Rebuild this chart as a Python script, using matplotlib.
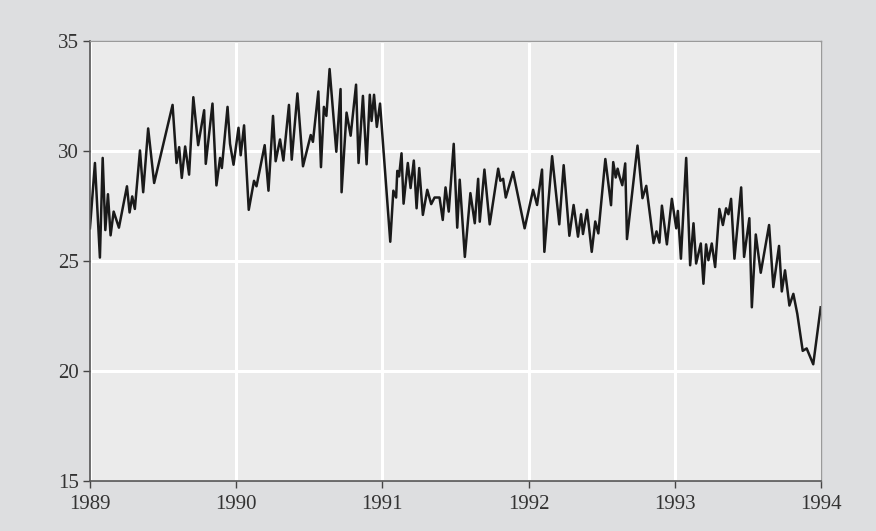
import matplotlib
matplotlib.use('Agg')
import matplotlib.pyplot as plt

# Dates as decimal years
dates = [
    1989.000, 1989.034, 1989.068, 1989.087, 1989.105, 1989.123, 1989.141, 1989.162,
    1989.198, 1989.253, 1989.271, 1989.289, 1989.307, 1989.342, 1989.364, 1989.398,
    1989.439, 1989.565, 1989.592, 1989.610, 1989.628, 1989.651, 1989.678, 1989.707,
    1989.740, 1989.781, 1989.792, 1989.838, 1989.865, 1989.890, 1989.902, 1989.941,
    1989.958, 1989.982, 1990.016, 1990.031, 1990.054, 1990.086, 1990.122, 1990.139,
    1990.195, 1990.221, 1990.252, 1990.270, 1990.300, 1990.323, 1990.361, 1990.380,
    1990.419, 1990.457, 1990.510, 1990.525, 1990.562, 1990.580, 1990.600, 1990.617,
    1990.639, 1990.685, 1990.714, 1990.721, 1990.755, 1990.783, 1990.820, 1990.837,
    1990.867, 1990.892, 1990.914, 1990.926, 1990.943, 1990.962, 1990.984, 1991.054,
    1991.075, 1991.094, 1991.102, 1991.114, 1991.131, 1991.145, 1991.174, 1991.193,
    1991.215, 1991.234, 1991.252, 1991.277, 1991.307, 1991.334, 1991.357, 1991.391,
    1991.413, 1991.432, 1991.454, 1991.488, 1991.512, 1991.529, 1991.564, 1991.602,
    1991.632, 1991.655, 1991.666, 1991.698, 1991.734, 1991.792, 1991.807, 1991.826,
    1991.844, 1991.894, 1991.973, 1992.031, 1992.058, 1992.092, 1992.108, 1992.161,
    1992.210, 1992.240, 1992.279, 1992.308, 1992.338, 1992.359, 1992.372, 1992.400,
    1992.432, 1992.456, 1992.477, 1992.525, 1992.564, 1992.579, 1992.596, 1992.609,
    1992.622, 1992.641, 1992.661, 1992.673, 1992.745, 1992.779, 1992.805, 1992.855,
    1992.875, 1992.895, 1992.912, 1992.946, 1992.980, 1993.010, 1993.021, 1993.042,
    1993.078, 1993.105, 1993.128, 1993.146, 1993.178, 1993.196, 1993.214, 1993.230,
    1993.253, 1993.276, 1993.305, 1993.329, 1993.351, 1993.367, 1993.385, 1993.408,
    1993.454, 1993.474, 1993.510, 1993.527, 1993.554, 1993.588, 1993.645, 1993.674,
    1993.713, 1993.732, 1993.754, 1993.784, 1993.811, 1993.838, 1993.875, 1993.902,
    1993.947, 1993.998,
]
values = [
    26.49, 29.46, 25.16, 29.69, 26.41, 28.04, 26.17, 27.25,
    26.52, 28.40, 27.21, 27.94, 27.37, 30.03, 28.13, 31.03,
    28.55, 32.10, 29.46, 30.18, 28.78, 30.21, 28.93, 32.45,
    30.27, 31.86, 29.42, 32.16, 28.44, 29.69, 29.23, 32.01,
    30.33, 29.38, 31.06, 29.81, 31.17, 27.33, 28.65, 28.40,
    30.27, 28.20, 31.60, 29.54, 30.53, 29.57, 32.10, 29.61,
    32.62, 29.31, 30.73, 30.42, 32.71, 29.27, 32.01, 31.60,
    33.73, 29.97, 32.82, 28.13, 31.75, 30.70, 33.02, 29.46,
    32.51, 29.40, 32.56, 31.37, 32.56, 31.10, 32.16, 25.88,
    28.20, 27.89, 29.10, 28.85, 29.90, 27.61, 29.46, 28.32,
    29.57, 27.40, 29.23, 27.10, 28.24, 27.59, 27.89, 27.89,
    26.87, 28.35, 27.25, 30.33, 26.52, 28.70, 25.19, 28.09,
    26.72, 28.74, 26.79, 29.16, 26.67, 29.20, 28.65, 28.74,
    27.89, 29.05, 26.49, 28.24, 27.55, 29.16, 25.42, 29.77,
    26.67, 29.36, 26.15, 27.55, 26.11, 27.13, 26.23, 27.33,
    25.42, 26.80, 26.26, 29.64, 27.54, 29.50, 28.80, 29.20,
    28.85, 28.45, 29.44, 26.00, 30.25, 27.86, 28.42, 25.82,
    26.35, 25.84, 27.52, 25.76, 27.83, 26.49, 27.28, 25.11,
    29.69, 24.81, 26.72, 24.89, 25.80, 23.97, 25.76, 25.04,
    25.80, 24.73, 27.37, 26.64, 27.40, 27.13, 27.83, 25.11,
    28.35, 25.19, 26.95, 22.90, 26.21, 24.47, 26.64, 23.82,
    25.69, 23.62, 24.58, 22.98, 23.51, 22.60, 20.92, 21.03,
    20.31, 22.90,
]

year_ticks = [1989, 1990, 1991, 1992, 1993, 1994]
value_ticks = [15, 20, 25, 30, 35]

plt.rcParams['font.family'] = ['Liberation Serif', 'DejaVu Serif']

fig = plt.figure(figsize=(8.76, 5.31), dpi=100, facecolor='#dddee0')
ax = fig.add_axes([0.1027, 0.094, 0.8345, 0.8286])
ax.set_facecolor('#ebebeb')

# White grid behind the line
ax.set_axisbelow(True)
ax.grid(True, color='white', linewidth=2.2)

ax.plot(dates, values, color='#1a1a1a', linewidth=1.8)

ax.set_xlim(1989, 1994)
ax.set_ylim(15, 35)
ax.set_xticks(year_ticks)
ax.set_yticks(value_ticks)
ax.set_xticklabels([str(y) for y in year_ticks])

ax.tick_params(axis='both', direction='out', length=5, width=1, color='#444444',
               labelsize=15, labelcolor='#333333')
ax.tick_params(axis='x', pad=5)
ax.tick_params(axis='y', pad=3)

for side in ['left', 'bottom']:
    ax.spines[side].set_color('#555555')
    ax.spines[side].set_linewidth(1.2)
for side in ['top', 'right']:
    ax.spines[side].set_color('#9a9a9a')
    ax.spines[side].set_linewidth(1.0)

fig.savefig('out.png', dpi=100, facecolor=fig.get_facecolor())
